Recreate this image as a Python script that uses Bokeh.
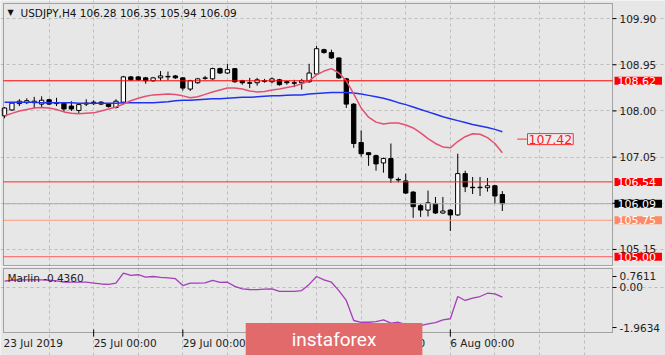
from bokeh.plotting import figure
from bokeh.layouts import column
from bokeh.models import (Range1d, FixedTicker, Grid, Label, BoxAnnotation, ColumnDataSource)
from bokeh.core.properties import value
from bokeh.embed import file_html
from bokeh.resources import INLINE

# ---------------- data ----------------
symbol = "USDJPY,H4"
opens = [107.90, 108.02, 108.15, 108.17, 108.17, 108.14, 108.23, 108.15, 108.16, 108.10,
         108.01, 108.14, 108.18, 108.18, 108.14, 108.07, 108.18, 108.70, 108.70, 108.68,
         108.62, 108.68, 108.71, 108.72, 108.68, 108.45, 108.58, 108.67, 108.66, 108.87,
         108.78, 108.87, 108.62, 108.58, 108.58, 108.62, 108.60, 108.64, 108.60, 108.58,
         108.58, 108.60, 108.76, 109.26, 109.20, 109.09, 108.66, 108.14, 107.35, 107.14,
         107.08, 106.93, 107.02, 106.59, 106.56, 106.33, 106.05, 105.96, 106.09, 105.90,
         105.96, 105.86, 106.71, 106.43, 106.42, 106.42, 106.46, 106.28]
highs = [108.08, 108.18, 108.24, 108.26, 108.29, 108.30, 108.25, 108.27, 108.18, 108.20,
         108.15, 108.24, 108.22, 108.20, 108.15, 108.24, 108.72, 108.72, 108.72, 108.70,
         108.70, 108.82, 108.81, 108.74, 108.69, 108.64, 108.68, 108.72, 108.89, 108.89,
         108.97, 108.88, 108.64, 108.68, 108.68, 108.66, 108.69, 108.66, 108.62, 108.64,
         108.66, 108.97, 109.34, 109.28, 109.26, 109.10, 108.68, 108.16, 107.60, 107.15,
         107.10, 107.04, 107.33, 106.63, 106.71, 106.35, 106.09, 106.36, 106.23, 106.23,
         105.98, 107.12, 106.77, 106.64, 106.64, 106.62, 106.48, 106.35]
lows = [107.85, 108.00, 108.10, 108.14, 108.05, 108.06, 108.12, 108.10, 107.98, 108.00,
        107.94, 108.10, 108.12, 108.12, 108.07, 108.05, 108.14, 108.62, 108.62, 108.56,
        108.60, 108.62, 108.63, 108.66, 108.42, 108.41, 108.56, 108.64, 108.64, 108.76,
        108.76, 108.58, 108.54, 108.47, 108.52, 108.58, 108.57, 108.52, 108.54, 108.49,
        108.44, 108.58, 108.74, 109.18, 109.07, 108.66, 108.06, 107.24, 107.06, 106.87,
        106.77, 106.73, 106.52, 106.53, 106.29, 105.80, 105.82, 105.83, 105.88, 105.88,
        105.53, 105.84, 106.33, 106.29, 106.25, 106.34, 106.09, 105.94]
closes = [108.06, 108.16, 108.20, 108.21, 108.20, 108.22, 108.14, 108.16, 108.04, 108.04,
          108.13, 108.16, 108.15, 108.14, 108.09, 108.20, 108.70, 108.64, 108.64, 108.62,
          108.68, 108.72, 108.70, 108.68, 108.47, 108.62, 108.66, 108.68, 108.87, 108.78,
          108.85, 108.60, 108.58, 108.57, 108.64, 108.61, 108.66, 108.54, 108.58, 108.57,
          108.62, 108.78, 109.28, 109.20, 109.09, 108.68, 108.14, 107.33, 107.12, 107.10,
          106.91, 107.02, 106.62, 106.58, 106.31, 106.03, 105.96, 106.11, 105.90, 105.94,
          105.86, 106.71, 106.44, 106.42, 106.43, 106.46, 106.25, 106.09]
ma_fast = [107.90, 107.95, 108.00, 108.03, 108.06, 108.07, 108.06, 108.03, 107.98, 107.95,
           107.94, 107.95, 107.96, 108.00, 108.04, 108.08, 108.14, 108.21, 108.26, 108.30,
           108.33, 108.34, 108.35, 108.34, 108.31, 108.27, 108.29, 108.34, 108.39, 108.43,
           108.47, 108.47, 108.45, 108.41, 108.39, 108.40, 108.43, 108.45, 108.48, 108.51,
           108.56, 108.62, 108.74, 108.82, 108.87, 108.78, 108.62, 108.35, 108.06, 107.87,
           107.77, 107.73, 107.75, 107.75, 107.71, 107.65, 107.55, 107.43, 107.33, 107.26,
           107.24, 107.37, 107.47, 107.53, 107.52, 107.45, 107.33, 107.14]
ma_slow = [108.18, 108.18, 108.18, 108.18, 108.18, 108.17, 108.17, 108.17, 108.17, 108.17,
           108.16, 108.16, 108.16, 108.16, 108.16, 108.16, 108.17, 108.17, 108.17, 108.17,
           108.17, 108.18, 108.19, 108.21, 108.22, 108.22, 108.23, 108.24, 108.25, 108.25,
           108.26, 108.27, 108.28, 108.28, 108.29, 108.30, 108.31, 108.31, 108.32, 108.33,
           108.33, 108.35, 108.36, 108.37, 108.38, 108.38, 108.38, 108.37, 108.35, 108.32,
           108.29, 108.26, 108.22, 108.17, 108.13, 108.08, 108.03, 107.98, 107.93, 107.88,
           107.84, 107.80, 107.76, 107.72, 107.69, 107.66, 107.62, 107.57]
marlin = [0.29, 0.33, 0.35, 0.35, 0.36, 0.35, 0.33, 0.30, 0.25, 0.24,
          0.24, 0.24, 0.20, 0.16, 0.14, 0.20, 0.65, 0.55, 0.58, 0.47,
          0.50, 0.46, 0.44, 0.40, 0.09, 0.20, 0.20, 0.21, 0.32, 0.23,
          0.24, 0.05, -0.06, -0.09, -0.10, -0.07, -0.06, -0.18, -0.18, -0.18,
          -0.14, 0.14, 0.50, 0.35, 0.24, -0.14, -0.59, -1.50, -1.58, -1.58,
          -1.55, -1.47, -1.62, -1.58, -1.68, -1.77, -1.73, -1.65, -1.60, -1.47,
          -1.42, -0.41, -0.59, -0.48, -0.41, -0.26, -0.29, -0.436]

price_ticks = [109.90, 108.95, 108.00, 107.05, 106.10, 105.15]
levels = [108.62, 106.54, 105.75, 105.00]
target_level = 107.42
marlin_max = 0.7611
marlin_min = -1.9634
date_labels = ["23 Jul 2019", "25 Jul 00:00", "29 Jul 00:00", "31 Jul 00:00",
               "2 Aug 00:00", "6 Aug 00:00"]
date_label_bars = [0, 12, 24, 36, 48, 60]
bars_per_day = 6

# ---------------- style / layout constants ----------------
BG = "#E7E7E7"
GRID = "#BDBDBD"
FONT = "DejaVu Sans"
FS = "10.5px"
TXT = "#222222"
level_line_colors = ["#FF0000", "#FF2A2A", "#FF9A7E", "#FF5A5A"]
level_box_colors = ["#FF0000", "#FF0000", "#FF8A66", "#FF0000"]

# chart boxes (the frames cover the whole canvas; the visible chart box is drawn inside)
X_LEFT, X_RIGHT = -0.135, 81.83          # chart box in bar units
P_TOP, P_BOT = 110.21, 104.82            # main chart box in price units
M_TOP, M_BOT = 0.864, -2.045             # indicator chart box in indicator units
TICK_X1 = 82.37                          # end of the outward price-axis ticks
AXIS_TXT_X = 82.77                       # start of price-axis tick labels
M_TICK_POS = [0.5, 0.0, -1.82]           # positions of indicator axis labels
DATE_Y = -2.5                            # y of the date labels (indicator units)
DTICK_Y = (-1.91, -2.23)                 # date tick marks (indicator units)
MARK_X, MARK_Y = 44.35, -2.364           # watermark centre

n = len(opens)
xs = list(range(n))
vgrid = list(range(bars_per_day, 82, bars_per_day))
xr = Range1d(-0.539, 88.96)


def base(height, y0, y1):
    f = figure(width=665, height=height, x_range=xr, y_range=Range1d(y0, y1),
               output_backend="svg", toolbar_location=None,
               x_axis_location=None, y_axis_location=None,
               min_border_left=0, min_border_right=0, min_border_top=0, min_border_bottom=0,
               background_fill_color=BG, border_fill_color=BG, outline_line_color=None)
    f.grid.visible = False
    return f


# ================= main price panel =================
main = base(266, 104.799, 110.272)
main.add_layout(Grid(dimension=0, ticker=FixedTicker(ticks=vgrid), bounds=(P_BOT, P_TOP),
                     grid_line_color=GRID, grid_line_dash="3 3"))
main.add_layout(Grid(dimension=1, ticker=FixedTicker(ticks=price_ticks), bounds=(X_LEFT, X_RIGHT),
                     grid_line_color=GRID, grid_line_dash="3 3"))

# candles
up = [i for i in xs if closes[i] >= opens[i]]
dn = [i for i in xs if closes[i] < opens[i]]
wick = ColumnDataSource(dict(x=xs, h=highs, l=lows))
main.segment(x0="x", x1="x", y0="h", y1="l", source=wick, line_color="black", line_width=1)
for idx, fill in ((up, "white"), (dn, "black")):
    src = ColumnDataSource(dict(x=[xs[i] for i in idx],
                                top=[max(opens[i], closes[i]) for i in idx],
                                bot=[min(opens[i], closes[i]) for i in idx]))
    main.vbar(x="x", width=0.58, top="top", bottom="bot", source=src,
              fill_color=fill, line_color="black", line_width=1)

main.line(xs, ma_slow, line_color="#2233F0", line_width=1.5)
main.line(xs, ma_fast, line_color="#E4506E", line_width=1.5)

# horizontal levels + current price line
lv_src = ColumnDataSource(dict(y=levels + [closes[-1]],
                               c=level_line_colors + ["#ABABAB"]))
main.segment(x0=X_LEFT, x1=X_RIGHT, y0="y", y1="y", line_color="c", line_width=1, source=lv_src)

# chart box outline
main.add_layout(BoxAnnotation(left=X_LEFT, right=X_RIGHT, bottom=P_BOT, top=P_TOP,
                              fill_alpha=0, line_color="black", line_width=1))

# price axis: ticks + labels
main.segment(x0=X_RIGHT, x1=TICK_X1, y0=price_ticks, y1=price_ticks, line_color="black")
main.text(x=[AXIS_TXT_X] * len(price_ticks), y=price_ticks,
          text=[f"{t:.2f}" for t in price_ticks], text_font=value(FONT),
          text_font_size=FS, text_color=TXT, text_baseline="middle", text_align="left")

# target label
main.segment(x0=[69.0], x1=[70.4], y0=[target_level], y1=[target_level],
             line_color="#FF3030", line_width=1)
main.add_layout(Label(x=527, x_units="screen", y=target_level, y_units="data",
                      text=f"{target_level:.2f}", text_font=FONT, text_font_size="12.5px",
                      text_color="#FF2020", text_align="left", text_baseline="middle",
                      background_fill_color="#EDEDED", border_line_color="#FF3030",
                      padding=1))

# right-side value boxes
boxes = list(zip(levels, level_box_colors)) + [(closes[-1], "#000000")]
for lv, bc in boxes:
    main.add_layout(Label(x=614, x_units="screen", y=lv, y_units="data", text=f"{lv:.2f}",
                          text_font=FONT, text_font_size="11px", text_color="white",
                          text_align="left", text_baseline="middle", background_fill_color=bc,
                          padding=dict(left=3, right=6, top=0, bottom=0)))

# title
main.add_layout(Label(x=7, y=254, x_units="screen", y_units="screen", text="\u25BC",
                      text_font=FONT, text_font_size="8px", text_color="#111111",
                      text_baseline="middle"))
title = f"{symbol}  {opens[-1]:.2f} {highs[-1]:.2f} {lows[-1]:.2f} {closes[-1]:.2f}"
main.add_layout(Label(x=20, y=254, x_units="screen", y_units="screen", text=title,
                      text_font=FONT, text_font_size=FS, text_color="#111111",
                      text_baseline="middle"))

# ================= indicator panel =================
ind = base(89, -3.0909, 0.9545)
ind.add_layout(Grid(dimension=0, ticker=FixedTicker(ticks=vgrid), bounds=(M_BOT, M_TOP),
                    grid_line_color=GRID, grid_line_dash="3 3"))
ind.add_layout(Grid(dimension=1, ticker=FixedTicker(ticks=[0]), bounds=(X_LEFT, X_RIGHT),
                    grid_line_color=GRID, grid_line_dash="3 3"))
ind.line(xs, marlin, line_color="#A53DBA", line_width=1.3)
ind.add_layout(BoxAnnotation(left=X_LEFT, right=X_RIGHT, bottom=M_BOT, top=M_TOP,
                             fill_alpha=0, line_color="black", line_width=1))

# indicator value axis
ind.segment(x0=X_RIGHT, x1=TICK_X1, y0=M_TICK_POS, y1=M_TICK_POS, line_color="black")
ind.text(x=[AXIS_TXT_X] * 3, y=M_TICK_POS,
         text=[f"{marlin_max:.4f}", "0.00", f"{marlin_min:.4f}"], text_font=value(FONT),
         text_font_size=FS, text_color=TXT, text_baseline="middle", text_align="left")

# date axis
date_x = [X_LEFT] + date_label_bars[1:]
ind.text(x=date_x, y=[DATE_Y] * len(date_x), text=date_labels, text_font=value(FONT),
         text_font_size=FS, text_color=TXT, text_baseline="middle", text_align="left")
ind.segment(x0=date_label_bars[1:], x1=date_label_bars[1:], y0=DTICK_Y[0], y1=DTICK_Y[1],
            line_color="black")

ind.add_layout(Label(x=7, y=78, x_units="screen", y_units="screen",
                     text=f"Marlin {marlin[-1]:.4f}", text_font=FONT, text_font_size=FS,
                     text_color=TXT, text_baseline="middle"))

ind.add_layout(Label(x=MARK_X, y=MARK_Y, text="instaforex",
                     text_font="Roboto", text_font_size="19px", text_color="white",
                     text_align="center", text_baseline="middle",
                     background_fill_color="#E36A6A",
                     padding=dict(left=46, right=46, top=5, bottom=5)))

layout = column(main, ind)
open("out.html", "w").write(file_html(layout, INLINE))
